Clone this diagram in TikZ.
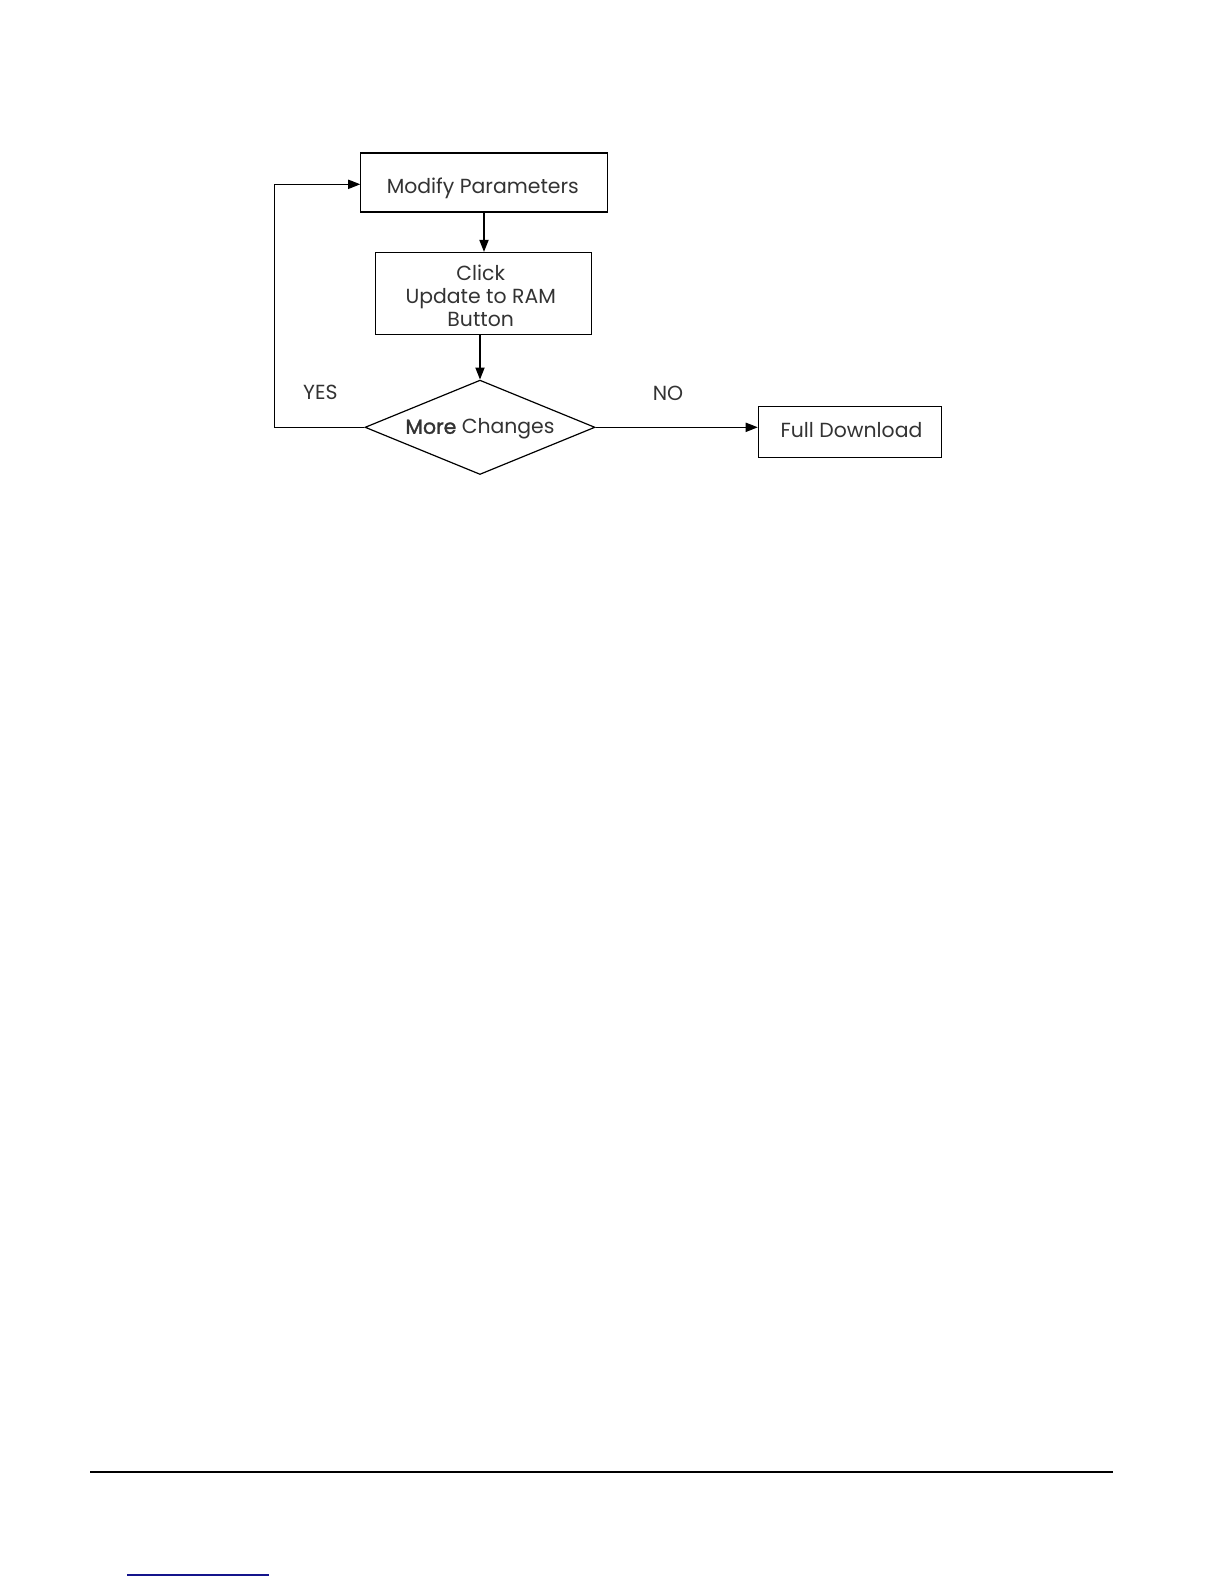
\documentclass[tikz,border=0pt]{standalone}
\usepackage{fontspec}
\setmainfont{Poppins}
\newfontfamily\morefont[FakeBold=1.5]{Poppins}
\usetikzlibrary{shapes.geometric,arrows.meta}
\begin{document}
\begin{tikzpicture}[x=0.5pt,y=-0.5pt,
  every node/.style={font=\fontsize{10.2}{11.6}\selectfont, text=black!80},
  boxnode/.style={draw=black, line width=0.6pt, inner sep=0pt, text=black!80},
  decide/.style={draw=black, diamond, aspect=2.44, line width=0.6pt, inner sep=0pt,
    minimum width=115pt, minimum height=47.2pt},
  lbl/.style={inner sep=0pt},
  conn/.style={draw=black, line width=0.6pt},
  arr/.style={conn, -{Triangle[length=6pt,width=4.6pt]}}]
\useasboundingbox (0,0) rectangle (1224,1584);
\fill[white] (0,0) rectangle (1224,1584);
% boxes
\node[boxnode, minimum width=123.2pt, minimum height=29.5pt] (mod) at (484,182.5) {};
\node[lbl] (modt) at (482.8,188) {Modify Parameters};
\node[boxnode, minimum width=108pt, minimum height=40.9pt] (click) at (483.7,293.4) {};
\node[lbl, align=center] (clickt) at (480.7,296) {Click\\Update to RAM\\Button};
\node[decide] (dia) at (480,427.3) {};
\node[lbl] (diat) at (480,429) {{\morefont More} Changes};
\node[boxnode, minimum width=91.7pt, minimum height=25.3pt] (fd) at (850,432) {};
\node[lbl] (fdt) at (851.5,430.5) {Full Download};
% labels
\node[lbl] (yes) at (320.3,392.5) {YES};
\node[lbl] (no) at (668,393) {NO};
% connectors
\coordinate (loopc) at (274.3,184.3);
\draw[arr] (mod.south) -- (mod.south |- click.north);
\draw[arr] (dia.north |- click.south) -- (dia.north);
\draw[arr] (dia.east) -- (dia.east -| fd.west);
\draw[arr] (dia.west) -| (loopc) -- (loopc -| mod.west);
% page rules
\coordinate (r1a) at (90,1472);
\coordinate (r1b) at (1113,1472);
\draw[line width=1.3pt] (r1a) -- (r1b);
\coordinate (r2a) at (127,1575);
\coordinate (r2b) at (269,1575);
\draw[line width=0.6pt, color={rgb,255:red,20;green,20;blue,140}] (r2a) -- (r2b);
\end{tikzpicture}
\end{document}
